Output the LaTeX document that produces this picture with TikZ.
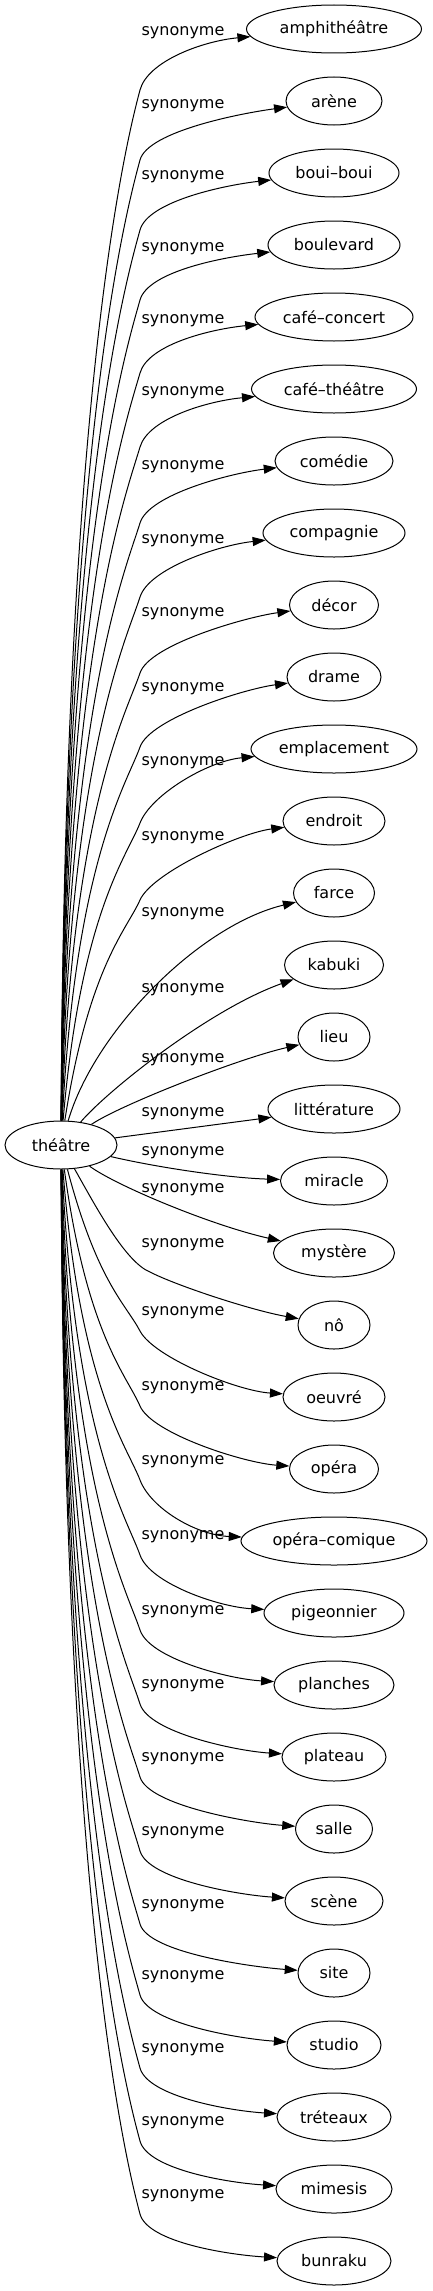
\documentclass[tikz,border=0pt]{standalone}
\usepackage{fontspec}
\setmainfont{DejaVu Sans}
\usetikzlibrary{arrows.meta,shapes.geometric,calc}
\begin{document}
\begin{tikzpicture}[x=1pt,y=-1pt,
  tn/.style={draw, ellipse, minimum height=48pt, inner sep=0pt, line width=1pt, font=\fontsize{16}{19}\selectfont},
  lab/.style={inner sep=0pt, font=\fontsize{16}{19}\selectfont},
  edge/.style={line width=1pt, -{Triangle[length=13pt,width=9pt]}}]
\useasboundingbox (0,0) rectangle (432,2291);
\node[tn, minimum width=112pt] (th) at (61,1145) {théâtre};
\foreach \i/\t/\w in {1/amphithéâtre/175,2/arène/96,3/boui–boui/130,4/boulevard/132,5/café–concert/158,6/café–théâtre/165,7/comédie/118,8/compagnie/142,9/décor/89,10/drame/94,11/emplacement/166,12/endroit/102,13/farce/81,14/kabuki/99,15/lieu/72,16/littérature/132,17/miracle/107,18/mystère/121,19/nô/72,20/oeuvré/102,21/opéra/89,22/opéra–comique/186,23/pigeonnier/140,24/planches/120,25/plateau/104,26/salle/77,27/scène/98,28/site/72,29/studio/94,30/tréteaux/114,31/mimesis/116,32/bunraku/114}{
  \pgfmathsetmacro\yy{29+72*(\i-1)}
  \node[tn, minimum width=\w pt] (n\i) at (334,\yy) {\t};
}
\foreach \i/\yl in {1/33,2/106,3/177,4/249,5/321,6/393,7/467,8/541,9/614,10/689,11/763,12/838,13/914,14/990,15/1060,16/1114,17/1153,18/1190,19/1245,20/1313,21/1388,22/1462,23/1537,24/1612,25/1686,26/1759,27/1833,28/1906,29/1977,30/2050,31/2123,32/2196}{
  \node[lab] (l\i) at (183,\yl) {synonyme};
}
% upper edges
\foreach \i/\dW in {1/61,2/59,3/57,4/55,5/56,6/58,7/62,8/64,9/68,10/70,11/74,12/79}{
  \pgfmathsetmacro\yt{29+72*(\i-1)}
  \pgfmathsetmacro\yW{\yt+\dW}
  \pgfmathsetmacro\hH{1122-\yW}
  \pgfmathsetmacro\ang{atan(0.22+50/\hH)}
  \pgfmathsetmacro\ga{exp(-\hH/200)}
  \pgfmathsetmacro\hh{25+0.035*\hH}
  \draw[edge] (th) .. controls ({64+75*\ga},{1122-0.7*\hH}) and ({140-\hh*sin(\ang)},{\yW+\hh*cos(\ang)}) .. (140,\yW)
     .. controls ({140+30*sin(\ang)},{\yW-30*cos(\ang)}) and ($(n\i.west)+(-43,12)$) .. (n\i);
}
% lower edges
\foreach \i/\yl in {20/1313,21/1388,22/1462,23/1537,24/1612,25/1686,26/1759,27/1833,28/1906,29/1977,30/2050,31/2123,32/2196}{
  \pgfmathsetmacro\yt{29+72*(\i-1)}
  \pgfmathsetmacro\yW{\yl+18}
  \pgfmathsetmacro\hH{\yW-1168}
  \pgfmathsetmacro\ang{atan(0.22+50/\hH)}
  \pgfmathsetmacro\ga{exp(-\hH/200)}
  \pgfmathsetmacro\hh{25+0.035*\hH}
  \draw[edge] (th) .. controls ({64+75*\ga},{1168+0.7*\hH}) and ({140-\hh*sin(\ang)},{\yW-\hh*cos(\ang)}) .. (140,\yW)
     .. controls ({140+30*sin(\ang)},{\yW+30*cos(\ang)}) and ($(n\i.west)+(-45,-6)$) .. (n\i);
}
% central edges
\draw[edge] (th) .. controls (95,1030) and (200,925) .. (n13);
\draw[edge] (th) .. controls (108,1090) and (210,1009) .. (n14);
\draw[edge] (th) .. controls (120,1105) and (240,1058) .. (n15);
\draw[edge] (th) -- (n16);
\draw[edge] (th) .. controls (160,1168) and (230,1178) .. (n17);
\draw[edge] (th) .. controls (115,1185) and (210,1225) .. (n18);
\draw[edge] (th) .. controls (95,1205) and (125,1262) .. (150,1272) .. controls (175,1285) and (250,1310) .. (n19);
\end{tikzpicture}
\end{document}
